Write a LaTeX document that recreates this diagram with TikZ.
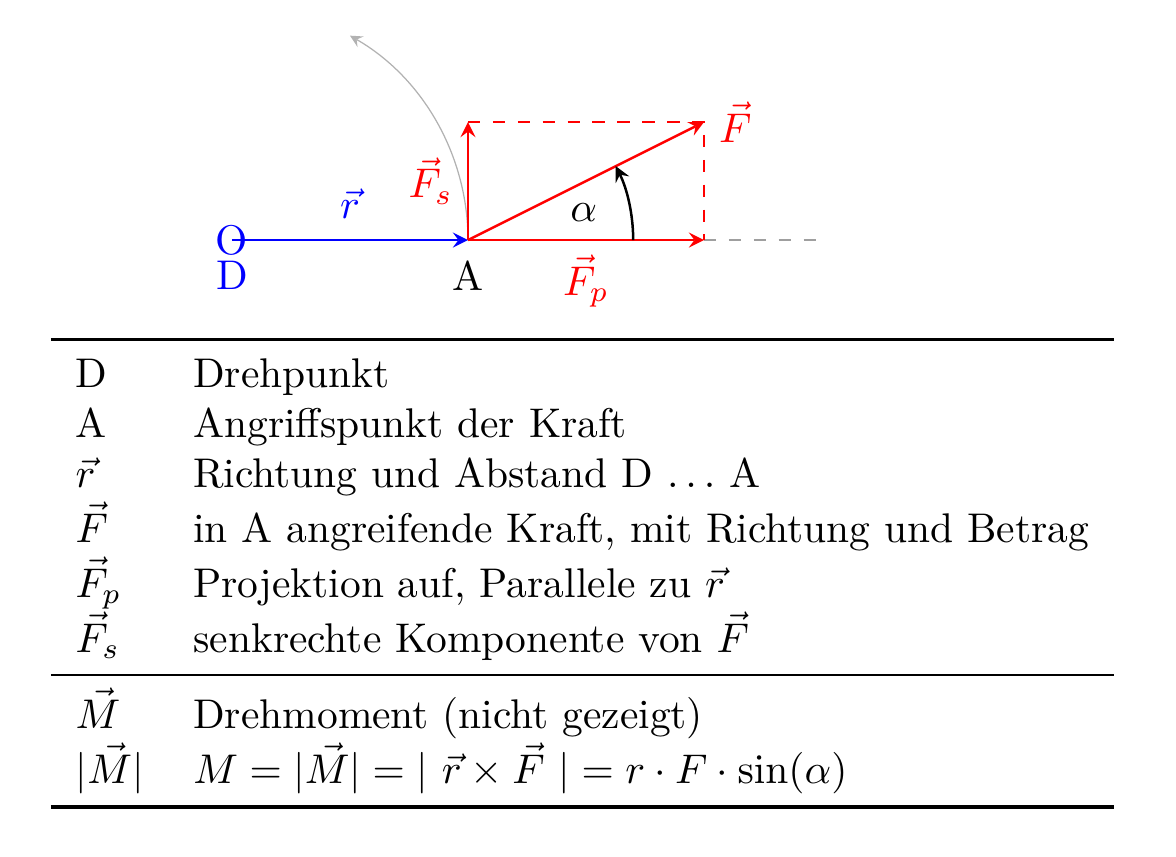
\documentclass[tikz,border=0pt]{standalone}
\usepackage{amsmath, amssymb}
\usepackage{booktabs}
\usetikzlibrary{
	angles,
	positioning,
	quotes,
}

\begin{document}
\begin{tikzpicture}
			\useasboundingbox (-1.966,-5.22) rectangle (8.0,2.034);
			\coordinate(D) at (0,0);
			\coordinate(A) at (2,0);
			\coordinate(P) at (4,0);
			\coordinate(S) at (2,1);
			\coordinate(F) at (4,1);
			\coordinate(E) at (5,0);
			\draw[gray!60, line width=0.3pt, -stealth] (A) arc[start angle=0, end angle=60, radius=2];
			\draw[gray!75, dashed, semithick] (P) -- (E);
			\draw[red, dashed, semithick] (S) -- (F) -- (P);
			\node[blue] (Dmark) at (D) {O};
			\node[blue, below=1.5pt of D, inner sep=3.33pt] (Dlab) {D};
			\node[below=1.5pt of A, inner sep=3.33pt] (Alab) {A};
			\draw[blue, semithick, -stealth] (D) -- node[above=1.5pt] (rlab) {$\vec{r}$} (A);
			\draw[red, semithick, -stealth] (A) -- node[below] (Fplab) {$\vec{F}_p$} (P);
			\draw[red, semithick, -stealth] (A) -- node[left] (Fslab) {$\vec{F}_s$} (S);
			\draw[red, semithick, -stealth] (A) -- (F)node[right] (Flab) {$\vec{F}$};
			\pic["$\alpha$", draw, semithick, -stealth, angle radius=1.4cm, angle eccentricity=0.72] {angle=P--A--F};
			\node[anchor=north west, inner sep=0pt] (legend) at (-1.542,-0.822) {%
				\begin{tabular}{ll}
					\toprule
					D & Drehpunkt\\
					A & Angriffspunkt der Kraft\\
					$\vec{r}$ & Richtung und Abstand D $\ldots$ A\\
					$\vec{F}$ & in A angreifende Kraft, mit Richtung und Betrag\\
					$\vec{F}_p$ & Projektion auf, Parallele zu $\vec{r}$\\
					$\vec{F}_s$ & senkrechte Komponente von $\vec{F}$\\
					\midrule
					$\vec{M}$ & Drehmoment (nicht gezeigt)\\
					$|\vec{M}|$ & $M = |\vec{M}| = |\ \vec{r} \times \vec{F}\ | = r \cdot F \cdot \sin(\alpha)$\\
					\bottomrule
				\end{tabular}};
		\end{tikzpicture}
\end{document}
